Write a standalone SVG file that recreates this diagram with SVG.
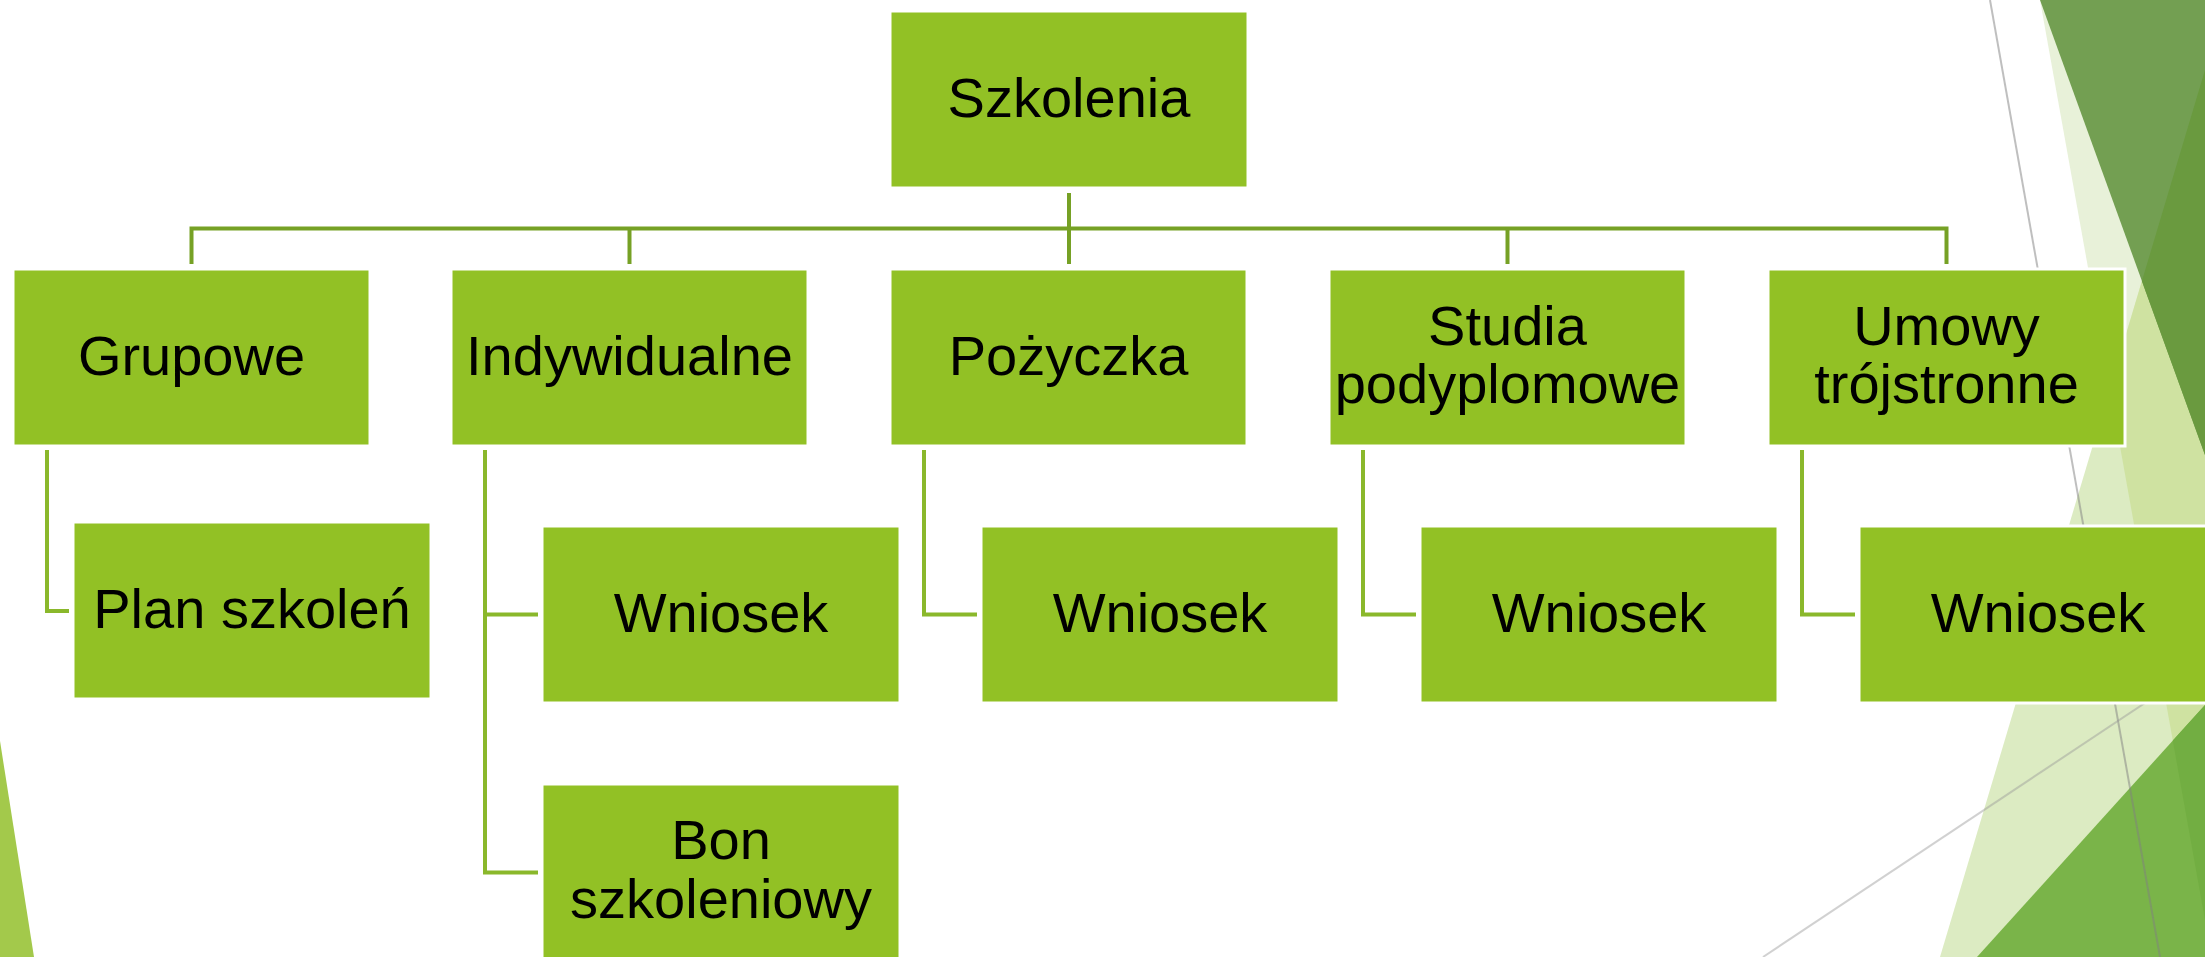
<svg xmlns="http://www.w3.org/2000/svg" width="2205" height="957" viewBox="0 0 2205 957">
  <style>
    .box { fill: #92c125; stroke: #ffffff; stroke-width: 3; }
    .lbl { font-family: "Liberation Sans", Arial, sans-serif; font-size: 56px; fill: #000000; text-anchor: middle; }
    .c1 { fill: none; stroke: #76a125; stroke-width: 4; }
    .c2 { fill: none; stroke: #8ab82b; stroke-width: 4; }
  </style>
  <rect x="0" y="0" width="2205" height="957" fill="#ffffff"/>
  <g id="background">
    <polygon points="0,741 34,957 0,957" fill="#a3c94b"/>
    <polygon points="2040,0 2205,0 2205,920" fill="#e8f1d9"/>
    <polygon points="2205,70 1940,957 2205,957" fill="#dcebc2"/>
    <polygon points="2205,70 2109.7,388.8 2205,920" fill="#cfe2a1"/>
    <polygon points="2040,0 2205,0 2205,455" fill="#739f52"/>
    <polygon points="2205,70 2141.9,281.1 2205,455" fill="#6a9a3f"/>
    <polygon points="2205,705 1977,957 2205,957" fill="#7ab449"/>
    <polygon points="2205,705 2172.8,740.6 2205,920" fill="#72ae42"/>
    <line x1="1990" y1="0" x2="2160" y2="957" stroke="#7f7f7f" stroke-opacity="0.5" stroke-width="2"/>
    <line x1="1763" y1="957" x2="2205" y2="663" stroke="#9a9a9a" stroke-opacity="0.45" stroke-width="2"/>
  </g>
  <g id="connectors">
    <path class="c1" d="M1069,193 V264"/>
    <path class="c1" d="M191.5,264 V228.5 H1946.5 V264"/>
    <path class="c1" d="M629.5,228.5 V264"/>
    <path class="c1" d="M1507.5,228.5 V264"/>
    <path class="c2" d="M47,450 V611 H69"/>
    <path class="c2" d="M485,450 V872.5 H538"/>
    <path class="c2" d="M485,614.5 H538"/>
    <path class="c2" d="M924,450 V614.5 H977"/>
    <path class="c2" d="M1363,450 V614.5 H1416"/>
    <path class="c2" d="M1802,450 V614.5 H1855"/>
  </g>
  <g id="node-szkolenia">
    <rect class="box" x="890" y="11" width="358" height="177"/>
    <text class="lbl" x="1069" y="117">Szkolenia</text>
  </g>
  <g id="node-grupowe">
    <rect class="box" x="13" y="269" width="357" height="177"/>
    <text class="lbl" x="191.5" y="375">Grupowe</text>
  </g>
  <g id="node-indywidualne">
    <rect class="box" x="451" y="269" width="357" height="177"/>
    <text class="lbl" x="629.5" y="375">Indywidualne</text>
  </g>
  <g id="node-pozyczka">
    <rect class="box" x="890" y="269" width="357" height="177"/>
    <text class="lbl" x="1068.5" y="375">Pożyczka</text>
  </g>
  <g id="node-studia">
    <rect class="box" x="1329" y="269" width="357" height="177"/>
    <text class="lbl" x="1507.5" y="345">Studia</text>
    <text class="lbl" x="1507.5" y="403">podyplomowe</text>
  </g>
  <g id="node-umowy">
    <rect class="box" x="1768" y="269" width="357" height="177"/>
    <text class="lbl" x="1946.5" y="345">Umowy</text>
    <text class="lbl" x="1946.5" y="403">trójstronne</text>
  </g>
  <g id="node-plan">
    <rect class="box" x="73" y="522" width="358" height="177"/>
    <text class="lbl" x="252" y="628">Plan szkoleń</text>
  </g>
  <g id="node-wniosek-indywidualne">
    <rect class="box" x="542" y="526" width="358" height="177"/>
    <text class="lbl" x="721" y="632">Wniosek</text>
  </g>
  <g id="node-bon">
    <rect class="box" x="542" y="784" width="358" height="177"/>
    <text class="lbl" x="721" y="859">Bon</text>
    <text class="lbl" x="721" y="918">szkoleniowy</text>
  </g>
  <g id="node-wniosek-pozyczka">
    <rect class="box" x="981" y="526" width="358" height="177"/>
    <text class="lbl" x="1160" y="632">Wniosek</text>
  </g>
  <g id="node-wniosek-studia">
    <rect class="box" x="1420" y="526" width="358" height="177"/>
    <text class="lbl" x="1599" y="632">Wniosek</text>
  </g>
  <g id="node-wniosek-umowy">
    <rect class="box" x="1859" y="526" width="358" height="177"/>
    <text class="lbl" x="2038" y="632">Wniosek</text>
  </g>
</svg>
